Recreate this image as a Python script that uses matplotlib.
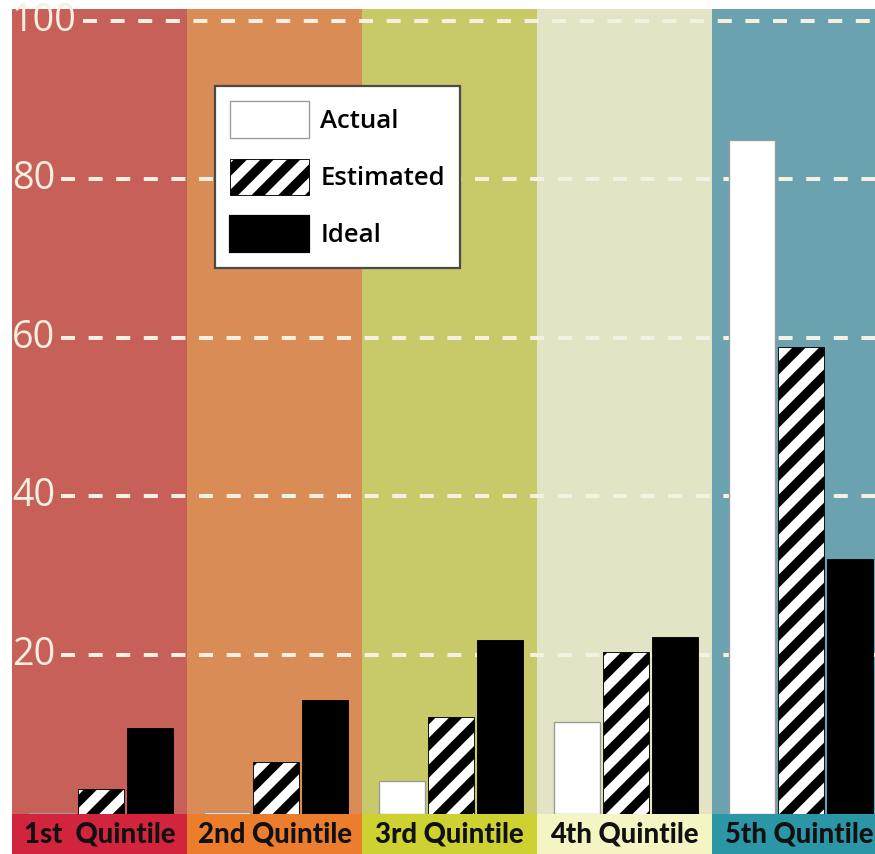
import matplotlib.pyplot as plt
from matplotlib.patches import Patch

# Dados
quintis = ["1st  Quintile", "2nd Quintile", "3rd Quintile", "4th Quintile", "5th Quintile"]
real = [0.1, 0.2, 4.1, 11.5, 85.0]
estimado = [3.1, 6.5, 12.2, 20.4, 58.9]
ideal = [10.8, 14.3, 21.9, 22.3, 32.1]
ticks = [20, 40, 60, 80, 100]

cores_fundo = ["#c8605a", "#d98c55", "#c8ca6a", "#e3e3c5", "#6aa2b0"]
cores_faixa = ["#d2253d", "#ec7d2d", "#cdd232", "#f5f5c3", "#2a96a6"]

DPI = 160
plt.rcParams["hatch.linewidth"] = 4.2
plt.rcParams["hatch.color"] = "black"

fig = plt.figure(figsize=(875 / DPI, 854 / DPI), dpi=DPI)
W, H = 875, 854
ax = fig.add_axes([12 / W, 1 - 814 / H, 863 / W, 805 / H])
faixa = fig.add_axes([12 / W, 0, 863 / W, 40 / H], sharex=ax)

n = len(quintis)
xmin = -0.5
xmax = -0.5 + 863 / 175
ax.set_xlim(xmin, xmax)
ax.set_ylim(-0.06, 101.5)

# Fundos coloridos por quintil
for i in range(n):
    ax.axvspan(i - 0.5, i + 0.5, color=cores_fundo[i], lw=0, zorder=0)
    faixa.axvspan(i - 0.5, i + 0.5, color=cores_faixa[i], lw=0, zorder=0)
    faixa.text(i, 0.5, quintis[i], ha="center", va="center",
               fontsize=12.4, fontweight="black", family="Lato", color="#111111")

# Rótulos do eixo y (dentro da área do gráfico)
rotulos = []
for t in ticks:
    r = ax.text(xmin, t, str(t), ha="left", va="center", fontsize=17,
                family="Open Sans", color="#f7efe0", zorder=2, clip_on=False)
    rotulos.append(r)

# Linhas tracejadas começam logo depois de cada rótulo
fig.canvas.draw()
inv = ax.transData.inverted()
for t, r in zip(ticks, rotulos):
    caixa = r.get_window_extent()
    x0 = inv.transform((caixa.x1 + 6, 0))[0]
    ax.plot([x0, xmax], [t, t], color="#f6f0e2", lw=1.8, dashes=(3.5, 3.4),
            dash_capstyle="butt", zorder=1)

# Barras
x = list(range(n))
largura = 0.263
passo = 0.28
centro = 0.01
ax.bar([i + centro - passo for i in x], real, width=largura,
       facecolor="white", edgecolor="#9a9a9a", lw=0.6, zorder=3)
ax.bar([i + centro for i in x], estimado, width=largura,
       facecolor="white", edgecolor="black", hatch="//", lw=0.4, zorder=3)
ax.bar([i + centro + passo for i in x], ideal, width=largura,
       facecolor="black", edgecolor="black", lw=0.4, zorder=3)

# Legenda
handles = [
    Patch(facecolor="white", edgecolor="#9a9a9a", lw=0.6, label="Actual"),
    Patch(facecolor="white", edgecolor="black", hatch="//", lw=0.4, label="Estimated"),
    Patch(facecolor="black", edgecolor="black", label="Ideal"),
]
leg = ax.legend(handles=handles, loc="upper left",
                bbox_to_anchor=(215 / W, 1 - 86 / H), bbox_transform=fig.transFigure,
                borderaxespad=0, fancybox=False, framealpha=1, edgecolor="#4a4a4a",
                prop=dict(family="Open Sans", weight="semibold", size=11.6),
                handlelength=3.03, handleheight=1.8, labelspacing=0.8,
                handletextpad=0.45, borderpad=0.6)
leg.get_frame().set_linewidth(1.0)
leg.set_zorder(5)

for a in (ax, faixa):
    a.set_xticks([])
    a.set_yticks([])
    for s in a.spines.values():
        s.set_visible(False)
faixa.set_ylim(0, 1)

# Título (fica quase todo fora da área visível)
fig.text(0, 1 + 6 / H, "Percentage Held by Each Fifth", ha="left",
         va="baseline", fontsize=13.5, family="DejaVu Serif", fontweight="bold",
         color="black")

fig.savefig("out.png", dpi=DPI)
